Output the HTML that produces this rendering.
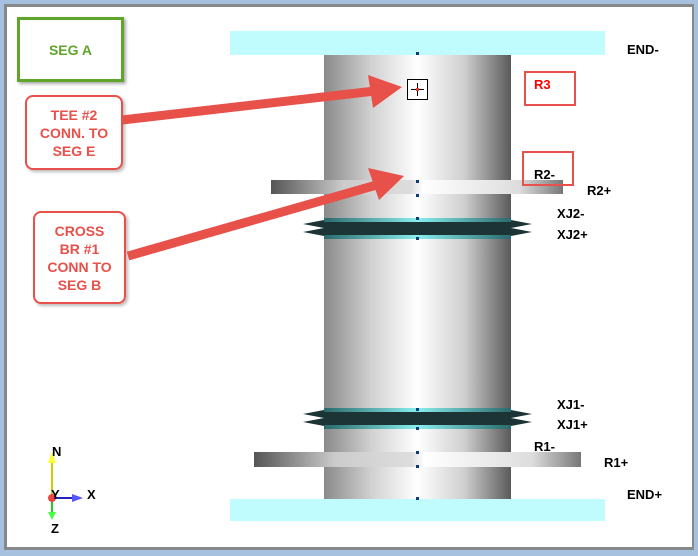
<!DOCTYPE html>
<html><head><style>
body{margin:0;width:698px;height:556px;overflow:hidden;background:#fff;font-family:"Liberation Sans",sans-serif}
.a{position:absolute}
.lbl{position:absolute;font-weight:bold;font-size:13px;color:#000}
.dot{position:absolute;width:3px;height:3px;background:#0a3c78;left:416px}
.call{position:absolute;border:2px solid #e8504a;border-radius:8px;color:#e8504a;font-weight:bold;font-size:14px;text-align:center;line-height:18px;box-shadow:2px 2px 3px #bbb;display:flex;align-items:center;justify-content:center}
</style></head><body>
<div class="a" style="left:0;top:0;width:698px;height:556px;background:#a6c0e0"></div>
<div class="a" style="left:4px;top:4px;width:690px;height:546px;background:#888"></div>
<div class="a" style="left:7px;top:7px;width:685px;height:540px;background:#fff"></div>

<div class="a" style="left:230px;top:31px;width:375px;height:24px;background:#c0fbfd"></div>
<div class="a" style="left:230px;top:499px;width:375px;height:22px;background:#c0fbfd"></div>
<div class="a" style="left:324px;top:55px;width:187px;height:444px;background:linear-gradient(90deg,#8a8a8a,#d0d0d0 25%,#fff 50%,#cfcfcf 75%,#5a5a5a)"></div>

<div class="a" style="left:271px;top:180px;width:292px;height:14px;background:linear-gradient(90deg,#555,#ccc 25%,#ddd 48%,#fff 52%,#ddd 85%,#777)"></div>
<div class="a" style="left:254px;top:452px;width:327px;height:15px;background:linear-gradient(90deg,#555,#ccc 25%,#ddd 48%,#fff 52%,#ddd 85%,#777)"></div>

<svg class="a" style="left:0;top:0" width="698" height="556">
<polygon points="303,224 324,220 511,220 532,224 511,228 532,232 511,236 324,236 303,232 324,228" fill="#1c3436"/>
<polygon points="303,414 324,410 511,410 532,414 511,418 532,422 511,426 324,426 303,422 324,418" fill="#1c3436"/>
</svg>
<div class="a" style="left:324px;top:218px;width:187px;height:4px;background:linear-gradient(90deg,#2a6a6c,#8ee 50%,#2a6a6c)"></div>
<div class="a" style="left:324px;top:235px;width:187px;height:4px;background:linear-gradient(90deg,#2a6a6c,#8ee 50%,#2a6a6c)"></div>
<div class="a" style="left:324px;top:408px;width:187px;height:4px;background:linear-gradient(90deg,#2a6a6c,#8ee 50%,#2a6a6c)"></div>
<div class="a" style="left:324px;top:425px;width:187px;height:4px;background:linear-gradient(90deg,#2a6a6c,#8ee 50%,#2a6a6c)"></div>

<div class="dot" style="top:52px"></div><div class="dot" style="top:180px"></div><div class="dot" style="top:194px"></div>
<div class="dot" style="top:217px"></div><div class="dot" style="top:237px"></div><div class="dot" style="top:408px"></div>
<div class="dot" style="top:427px"></div><div class="dot" style="top:451px"></div><div class="dot" style="top:465px"></div><div class="dot" style="top:497px"></div>

<div class="a" style="left:407px;top:79px;width:19px;height:19px;border:1px solid #000;background:#fff"></div>
<div class="a" style="left:411px;top:89px;width:13px;height:1px;background:#000"></div>
<div class="a" style="left:417px;top:83px;width:1px;height:13px;background:#000"></div>
<div class="a" style="left:416px;top:88px;width:3px;height:3px;background:#e33"></div>

<div class="a" style="left:524px;top:71px;width:48px;height:31px;border:2px solid #e8504a"></div>
<div class="lbl" style="left:534px;top:77px;color:#f00">R3</div>
<div class="a" style="left:522px;top:151px;width:48px;height:31px;border:2px solid #e8504a"></div>
<div class="lbl" style="left:534px;top:167px">R2-</div>

<div class="lbl" style="left:627px;top:42px">END-</div>
<div class="lbl" style="left:587px;top:183px">R2+</div>
<div class="lbl" style="left:557px;top:206px">XJ2-</div>
<div class="lbl" style="left:557px;top:227px">XJ2+</div>
<div class="lbl" style="left:557px;top:397px">XJ1-</div>
<div class="lbl" style="left:557px;top:417px">XJ1+</div>
<div class="lbl" style="left:534px;top:439px">R1-</div>
<div class="lbl" style="left:604px;top:455px">R1+</div>
<div class="lbl" style="left:627px;top:487px">END+</div>

<div class="a" style="left:17px;top:17px;width:101px;height:59px;border:3px solid #5ea52a;box-shadow:2px 2px 3px #aaa;color:#5ea52a;font-weight:bold;font-size:14px;display:flex;align-items:center;justify-content:center">SEG A</div>
<div class="call" style="left:25px;top:95px;width:94px;height:71px">TEE #2<br>CONN. TO<br>SEG E</div>
<div class="call" style="left:33px;top:211px;width:89px;height:89px">CROSS<br>BR #1<br>CONN TO<br>SEG B</div>

<svg class="a" style="left:0;top:0" width="698" height="556">
<line x1="122" y1="120" x2="375" y2="91" stroke="#e8504a" stroke-width="9"/>
<polygon points="402,87 368,75 373,108" fill="#e8504a"/>
<line x1="128" y1="256" x2="380" y2="184" stroke="#e8504a" stroke-width="9"/>
<polygon points="404,176 368,168 379,200" fill="#e8504a"/>
<line x1="52" y1="495" x2="52" y2="460" stroke="#cc0" stroke-width="2"/>
<polygon points="52,452 48,463 56,463" fill="#ff3"/>
<line x1="52" y1="496" x2="52" y2="515" stroke="#2c2" stroke-width="2"/>
<polygon points="52,520 48,512 56,512" fill="#4f4"/>
<line x1="52" y1="498" x2="76" y2="498" stroke="#22b" stroke-width="2"/>
<polygon points="83,498 72,494 72,502" fill="#55f"/>
<circle cx="52" cy="498" r="4" fill="#e44"/>
<text x="52" y="456" font-family="Liberation Sans" font-weight="bold" font-size="13">N</text>
<text x="51" y="499" font-family="Liberation Sans" font-weight="bold" font-size="13">Y</text>
<text x="87" y="499" font-family="Liberation Sans" font-weight="bold" font-size="13">X</text>
<text x="51" y="533" font-family="Liberation Sans" font-weight="bold" font-size="13">Z</text>
</svg>
</body></html>
